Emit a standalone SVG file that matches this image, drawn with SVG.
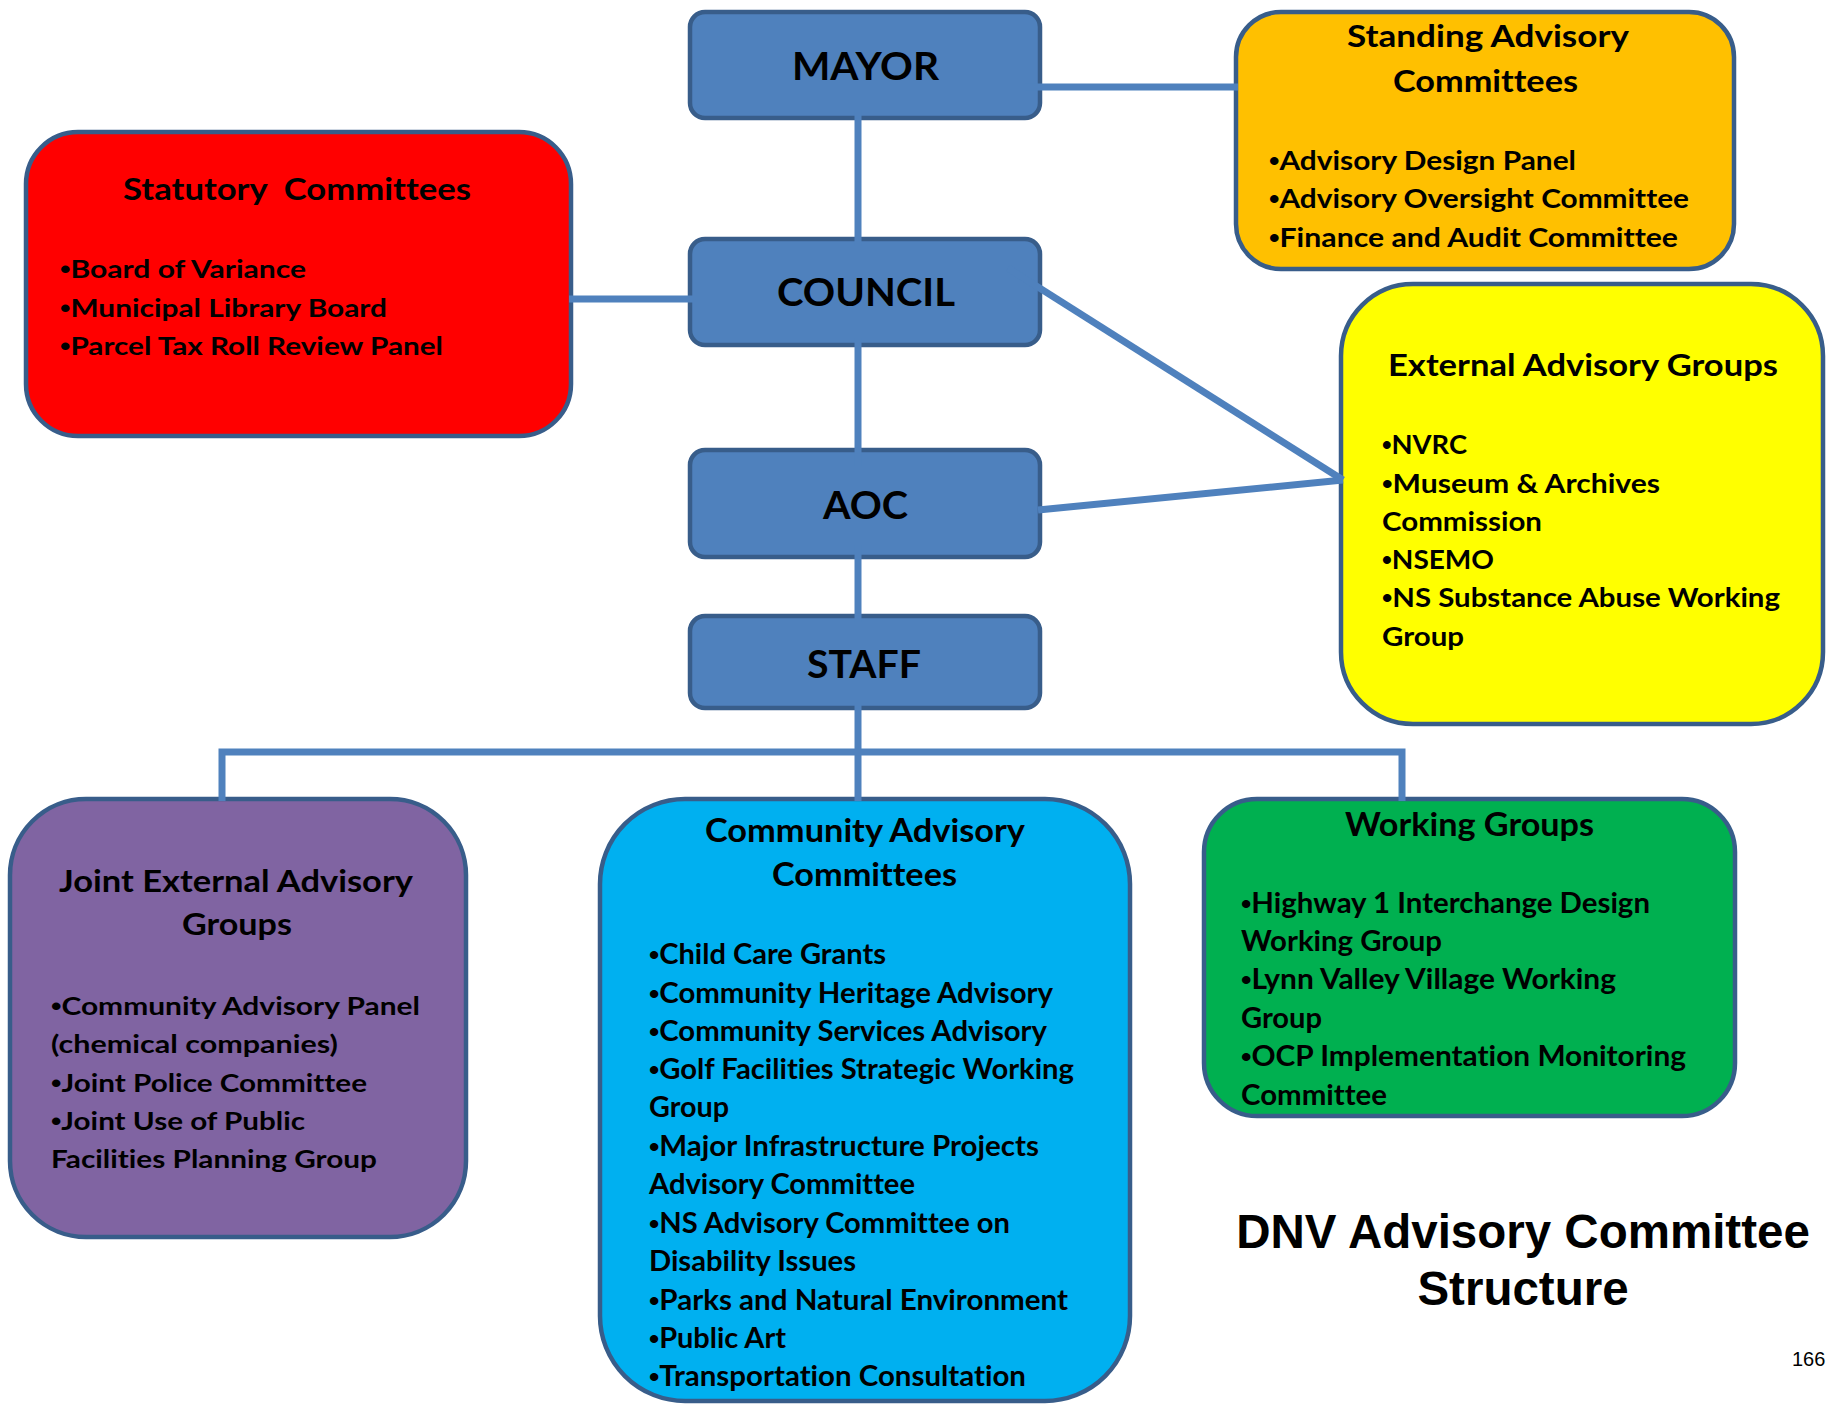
<svg xmlns="http://www.w3.org/2000/svg" width="1826" height="1404" viewBox="0 0 1826 1404">
<style>
.box{stroke:#385D8A;stroke-width:4.5}
.blue{fill:#4F81BD}
.t{font-family:Lato,"Open Sans","Liberation Sans",sans-serif;font-weight:700;fill:#000;font-variant-ligatures:none}
.b{font-family:"Liberation Sans",Arial,sans-serif;font-weight:700}
.big{font-size:39px}
.h{font-size:30.5px}
.h2{font-size:33px}
.i25{font-size:25px}
.i27{font-size:27px}
.i28{font-size:28px}
.conn{stroke:#4F81BD;stroke-width:7;fill:none}
.title{font-family:"Liberation Sans",Arial,sans-serif;font-weight:700;font-size:47.5px;fill:#000}
</style>
<rect width="1826" height="1404" fill="#fff"/>

<g id="node-mayor">
<rect class="box blue" x="690" y="12" width="350" height="106" rx="15"/>
<text class="t big" x="792" y="80" textLength="147" lengthAdjust="spacingAndGlyphs">MAYOR</text>
</g>
<g id="node-council">
<rect class="box blue" x="690" y="239" width="350" height="106" rx="15"/>
<text class="t big" x="777" y="306" textLength="178" lengthAdjust="spacingAndGlyphs">COUNCIL</text>
</g>
<g id="node-aoc">
<rect class="box blue" x="690" y="450" width="350" height="107" rx="15"/>
<text class="t big" x="823" y="519" textLength="85" lengthAdjust="spacingAndGlyphs">AOC</text>
</g>
<g id="node-staff">
<rect class="box blue" x="690" y="616" width="350" height="92" rx="15"/>
<text class="t big" x="807" y="678" textLength="114" lengthAdjust="spacingAndGlyphs">STAFF</text>
</g>

<g id="node-standing">
<rect class="box" fill="#FFC000" x="1236" y="12" width="498" height="257" rx="45"/>
<text class="t h" x="1347" y="47" textLength="282" lengthAdjust="spacingAndGlyphs">Standing Advisory</text>
<text class="t h" x="1393" y="92" textLength="185" lengthAdjust="spacingAndGlyphs">Committees</text>
<text class="t i27" x="1269" y="170" textLength="307" lengthAdjust="spacingAndGlyphs"><tspan class="b">•</tspan>Advisory Design Panel</text>
<text class="t i27" x="1269" y="208" textLength="420" lengthAdjust="spacingAndGlyphs"><tspan class="b">•</tspan>Advisory Oversight Committee</text>
<text class="t i27" x="1269" y="247" textLength="409" lengthAdjust="spacingAndGlyphs"><tspan class="b">•</tspan>Finance and Audit Committee</text>
</g>

<g id="node-statutory">
<rect class="box" fill="#FF0000" x="26" y="132" width="545" height="304" rx="52"/>
<text class="t h" x="123" y="200" textLength="348" lengthAdjust="spacingAndGlyphs">Statutory&#160; Committees</text>
<text class="t i25" x="60" y="278" textLength="246" lengthAdjust="spacingAndGlyphs"><tspan class="b">•</tspan>Board of Variance</text>
<text class="t i25" x="60" y="317" textLength="327" lengthAdjust="spacingAndGlyphs"><tspan class="b">•</tspan>Municipal Library Board</text>
<text class="t i25" x="60" y="355" textLength="383" lengthAdjust="spacingAndGlyphs"><tspan class="b">•</tspan>Parcel Tax Roll Review Panel</text>
</g>

<g id="node-external">
<rect class="box" fill="#FFFF00" x="1341" y="284" width="482" height="440" rx="72"/>
<text class="t h" x="1388" y="376" textLength="390" lengthAdjust="spacingAndGlyphs">External Advisory Groups</text>
<text class="t i27" x="1382" y="454" textLength="85" lengthAdjust="spacingAndGlyphs"><tspan class="b">•</tspan>NVRC</text>
<text class="t i27" x="1382" y="493" textLength="278" lengthAdjust="spacingAndGlyphs"><tspan class="b">•</tspan>Museum &amp; Archives</text>
<text class="t i27" x="1382" y="531" textLength="160" lengthAdjust="spacingAndGlyphs">Commission</text>
<text class="t i27" x="1382" y="569" textLength="112" lengthAdjust="spacingAndGlyphs"><tspan class="b">•</tspan>NSEMO</text>
<text class="t i27" x="1382" y="607" textLength="398" lengthAdjust="spacingAndGlyphs"><tspan class="b">•</tspan>NS Substance Abuse Working</text>
<text class="t i27" x="1382" y="646" textLength="82" lengthAdjust="spacingAndGlyphs">Group</text>
</g>

<g id="node-joint">
<rect class="box" fill="#8064A2" x="10" y="799" width="456" height="438" rx="76"/>
<text class="t h" x="59" y="892" textLength="354" lengthAdjust="spacingAndGlyphs">Joint External Advisory</text>
<text class="t h" x="182" y="935" textLength="110" lengthAdjust="spacingAndGlyphs">Groups</text>
<text class="t i25" x="51" y="1015" textLength="369" lengthAdjust="spacingAndGlyphs"><tspan class="b">•</tspan>Community Advisory Panel</text>
<text class="t i25" x="51" y="1053" textLength="287" lengthAdjust="spacingAndGlyphs">(chemical companies)</text>
<text class="t i25" x="51" y="1092" textLength="316" lengthAdjust="spacingAndGlyphs"><tspan class="b">•</tspan>Joint Police Committee</text>
<text class="t i25" x="51" y="1130" textLength="254" lengthAdjust="spacingAndGlyphs"><tspan class="b">•</tspan>Joint Use of Public</text>
<text class="t i25" x="51" y="1168" textLength="326" lengthAdjust="spacingAndGlyphs">Facilities Planning Group</text>
</g>

<g id="node-community">
<rect class="box" fill="#00B0F0" x="600" y="799" width="530" height="602" rx="85"/>
<text class="t h2" x="705" y="842" textLength="320" lengthAdjust="spacingAndGlyphs">Community Advisory</text>
<text class="t h2" x="772" y="886" textLength="185" lengthAdjust="spacingAndGlyphs">Committees</text>
<text class="t i28" x="649" y="964" textLength="237" lengthAdjust="spacingAndGlyphs"><tspan class="b">•</tspan>Child Care Grants</text>
<text class="t i28" x="649" y="1003" textLength="404" lengthAdjust="spacingAndGlyphs"><tspan class="b">•</tspan>Community Heritage Advisory</text>
<text class="t i28" x="649" y="1041" textLength="398" lengthAdjust="spacingAndGlyphs"><tspan class="b">•</tspan>Community Services Advisory</text>
<text class="t i28" x="649" y="1079" textLength="425" lengthAdjust="spacingAndGlyphs"><tspan class="b">•</tspan>Golf Facilities Strategic Working</text>
<text class="t i28" x="649" y="1117" textLength="80" lengthAdjust="spacingAndGlyphs">Group</text>
<text class="t i28" x="649" y="1156" textLength="390" lengthAdjust="spacingAndGlyphs"><tspan class="b">•</tspan>Major Infrastructure Projects</text>
<text class="t i28" x="649" y="1194" textLength="266" lengthAdjust="spacingAndGlyphs">Advisory Committee</text>
<text class="t i28" x="649" y="1233" textLength="361" lengthAdjust="spacingAndGlyphs"><tspan class="b">•</tspan>NS Advisory Committee on</text>
<text class="t i28" x="649" y="1271" textLength="207" lengthAdjust="spacingAndGlyphs">Disability Issues</text>
<text class="t i28" x="649" y="1310" textLength="419" lengthAdjust="spacingAndGlyphs"><tspan class="b">•</tspan>Parks and Natural Environment</text>
<text class="t i28" x="649" y="1348" textLength="137" lengthAdjust="spacingAndGlyphs"><tspan class="b">•</tspan>Public Art</text>
<text class="t i28" x="649" y="1386" textLength="377" lengthAdjust="spacingAndGlyphs"><tspan class="b">•</tspan>Transportation Consultation</text>
</g>

<g id="node-working">
<rect class="box" fill="#00B050" x="1204" y="799" width="531" height="317" rx="53"/>
<text class="t h2" x="1345" y="836" textLength="249" lengthAdjust="spacingAndGlyphs">Working Groups</text>
<text class="t i28" x="1241" y="913" textLength="409" lengthAdjust="spacingAndGlyphs"><tspan class="b">•</tspan>Highway 1 Interchange Design</text>
<text class="t i28" x="1241" y="951" textLength="201" lengthAdjust="spacingAndGlyphs">Working Group</text>
<text class="t i28" x="1241" y="989" textLength="375" lengthAdjust="spacingAndGlyphs"><tspan class="b">•</tspan>Lynn Valley Village Working</text>
<text class="t i28" x="1241" y="1028" textLength="81" lengthAdjust="spacingAndGlyphs">Group</text>
<text class="t i28" x="1241" y="1066" textLength="445" lengthAdjust="spacingAndGlyphs"><tspan class="b">•</tspan>OCP Implementation Monitoring</text>
<text class="t i28" x="1241" y="1105" textLength="146" lengthAdjust="spacingAndGlyphs">Committee</text>
</g>

<g id="connectors">
<line class="conn" x1="858" y1="110" x2="858" y2="246"/>
<line class="conn" x1="858" y1="338" x2="858" y2="466"/>
<line class="conn" x1="858" y1="545" x2="858" y2="622"/>
<line class="conn" x1="858" y1="704" x2="858" y2="801"/>
<polyline class="conn" points="222,801 222,752 1402,752 1402,801"/>
<line class="conn" x1="1025" y1="87" x2="1238" y2="87"/>
<line class="conn" x1="569" y1="299" x2="693" y2="299"/>
<line class="conn" x1="1008" y1="268" x2="1343" y2="480"/>
<line class="conn" x1="1038" y1="510" x2="1343" y2="480"/>
</g>

<g id="caption">
<text class="title" x="1523" y="1248" text-anchor="middle">DNV Advisory Committee</text>
<text class="title" x="1523" y="1305" text-anchor="middle">Structure</text>
<text x="1792" y="1366" font-family="Liberation Sans, Arial, sans-serif" font-size="20" fill="#000">166</text>
</g>
</svg>
